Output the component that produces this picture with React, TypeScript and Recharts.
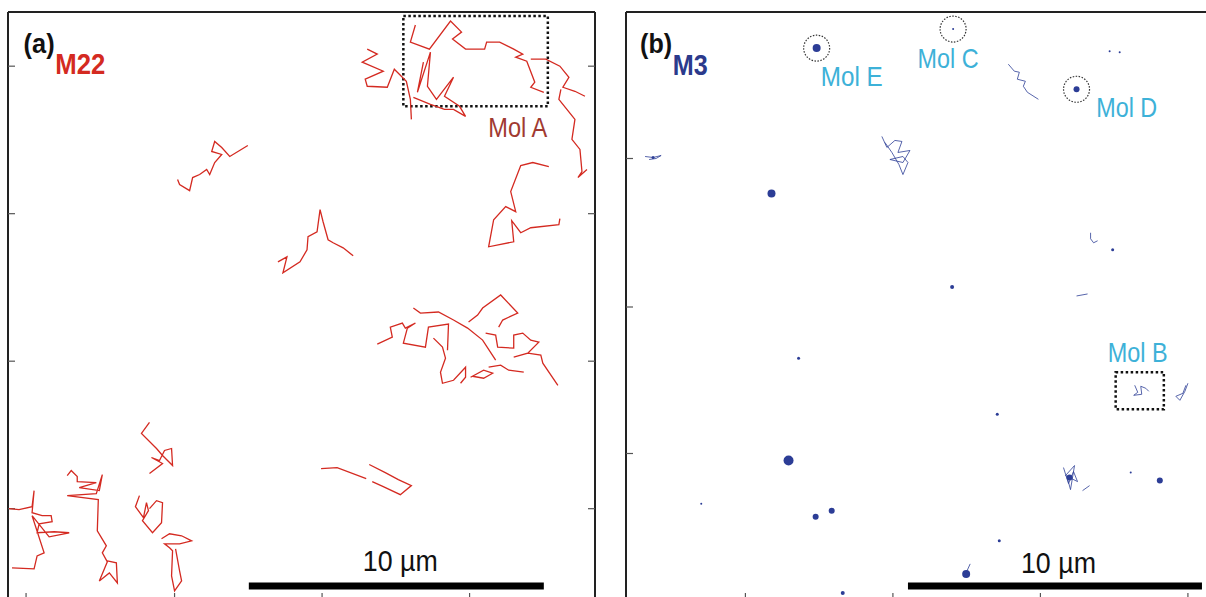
import { ScatterChart, Scatter, XAxis, YAxis, ReferenceArea, ReferenceDot, ReferenceLine } from "recharts";

// Coordinates are in image pixels of each field of view (origin = top-left corner of the frame).
// 10 µm scale bar = 294 px, axis ticks every 5 µm.

const FIELD_W = 585;
const FIELD_H = 586;

// panel (a) ticks
const aTicksX = [18, 166, 313, 460];
const aTicksY = [54, 201, 348, 495];
// panel (b) ticks
const bTicksX = [119, 266, 413, 560];
const bTicksY = [146, 294, 440];

// ---- panel (a): M22 trajectories ----
const molA = [[406,13],[401,30],[420,37],[441,9],[452,20],[443,27],[456,37],[475,37],[477,30],[490,30],[504,37],[513,42],[506,45],[517,49],[525,70],[521,75],[534,80]];
const trackA2 = [[521,47],[536,47],[550,54],[559,65],[553,75],[565,79],[575,84]];
const trackA3 = [[551,77],[549,87],[557,97],[565,107],[562,127],[570,137],[572,159],[568,165],[577,157]];
const trackA4 = [[358,37],[368,42],[353,50],[374,59],[356,67],[358,74],[378,75],[385,57],[397,69],[401,87],[402,107]];
const trackA5 = [[414,50],[408,80],[421,40],[418,74],[427,87],[444,65],[435,84],[450,94],[456,104],[444,97],[435,97],[421,92],[404,85]];
const trackA6 = [[169,167],[171,172],[181,178],[184,165],[191,162],[198,157],[201,162],[206,150],[213,142],[203,139],[206,129],[213,135],[221,144],[239,133]];
const trackA7 = [[269,249],[278,244],[274,260],[291,249],[298,237],[299,224],[308,219],[311,197],[314,209],[319,227],[324,230],[334,235],[344,243]];
const trackA8 = [[539,154],[523,150],[511,153],[501,179],[506,199],[496,194],[484,207],[479,234],[504,229],[502,208],[511,220],[521,215],[549,212],[550,206]];
const trackA9 = [[368,331],[383,324],[381,314],[393,310],[396,315],[406,310],[398,315],[394,330],[416,334],[419,314],[439,311],[438,337]];
const trackA10 = [[404,295],[411,300],[429,299],[444,307],[458,315],[473,327],[486,347]];
const trackA11 = [[459,309],[468,302],[473,295],[491,282],[508,300],[493,307],[489,314]];
const trackA12 = [[424,325],[433,334],[436,345],[431,359],[433,370],[444,367],[456,354],[456,364],[451,370]];
const trackA13 = [[461,364],[474,357],[483,360],[474,365],[463,363]];
const trackA14 = [[479,354],[491,352],[499,357],[514,359]];
const trackA15 = [[476,320],[486,322],[488,334],[504,335],[504,322],[513,320],[521,327],[529,329],[518,340],[504,344],[518,340],[531,342],[533,350],[548,372]];
const trackA16 = [[312,455],[328,454],[357,465]];
const trackA17 = [[360,451],[376,459],[389,466],[402,472],[391,481],[374,473],[363,468]];
const trackA18 = [[141,409],[133,420],[148,435],[154,442],[164,452],[163,435],[156,437],[151,447],[143,444],[154,450],[141,460]];
const trackA19 = [[59,462],[63,457],[69,463],[69,468],[88,469],[71,474],[91,477],[94,461],[88,480],[59,482],[90,486],[89,517],[98,532],[94,539],[99,548],[91,567],[101,559],[109,569],[108,549],[99,547]];
const trackA20 = [[1,495],[11,496],[24,493],[26,477],[24,499],[34,502],[43,502],[44,508],[31,510],[29,519],[46,518],[61,519],[41,523],[24,502],[36,539],[29,542],[26,555],[4,554]];
const trackA21 = [[131,482],[127,493],[135,504],[138,489],[140,497],[134,507],[144,519],[153,509],[154,489],[148,487],[141,495]];
const trackA22 = [[153,525],[161,520],[173,522],[183,527],[171,530],[156,530],[161,534],[164,537],[163,562],[166,577],[173,567],[171,557],[167,535]];

const tracksM22 = [molA, trackA2, trackA3, trackA4, trackA5, trackA6, trackA7, trackA8, trackA9, trackA10, trackA11,
  trackA12, trackA13, trackA14, trackA15, trackA16, trackA17, trackA18, trackA19, trackA20, trackA21, trackA22];

// ---- panel (b): M3 trajectories ----
const trackB1 = [[19,144],[27,145],[35,143],[30,146],[23,147]];
const trackB2 = [[381,52],[387,59],[392,60],[390,67],[398,69],[396,74],[400,80],[411,87]];
const trackB3 = [[255,124],[260,135],[268,128],[275,129],[271,140],[283,138],[276,150],[263,147],[276,144],[281,150],[276,162],[272,152],[265,140],[258,130]];
const trackB4 = [[463,220],[463,226],[466,230],[470,228]];
const trackB5 = [[449,283],[460,281]];
const molB = [[507,372],[510,379],[506,382],[514,381],[513,373],[518,375],[521,378]];
const trackB7 = [[560,370],[557,378],[552,387],[548,383],[555,380],[558,372]];
const trackB8 = [[436,454],[441,470],[446,458],[450,468],[438,462],[447,452],[443,476],[440,465]];
const trackB9 = [[455,477],[462,472]];
const trackB10 = [[338,561],[343,550]];

const tracksM3 = [trackB1, trackB2, trackB3, trackB4, trackB5, molB, trackB7, trackB8, trackB9, trackB10];

// immobile molecules: x, y, apparent blob radius
const blobsM3 = [
  [190,36,4],[326,17,1],[449,77,3],[482,39,1],[492,40,1],[145,181,4],[485,237,1.5],[172,345,1.5],
  [370,401,1.5],[162,447,5],[75,490,1],[189,503,3],[205,497,3],[503,459,1],[532,467,3],[372,527,1.5],
  [339,560,4],[216,579,2],[27,145,1.5],[325,274,2],[442,464,3],
];

const RED = "#d42a21";
const BLUE = "#2c3d96";
const CYAN = "#3db1d8";
const FONT = "'Liberation Sans', Arial, sans-serif";

const toPts = (arr: number[][]) => arr.map(([x, y]) => ({ x, y }));
const noShape = () => <g />;
const noLabel = () => <g />;

const M = 4;
const CW = FIELD_W + 2 * M + 2;
const CH = FIELD_H + 2 * M + 2;

function axes(ticksX: number[], ticksY: number[]) {
  const line = { stroke: "#222", strokeWidth: 2 };
  const tl = { stroke: "#555", strokeWidth: 1.2 };
  return [
    <XAxis key="xb" xAxisId={0} type="number" dataKey="x" domain={[0, FIELD_W]} ticks={ticksX} tick={noLabel}
      tickLine={tl} tickSize={7} mirror height={1} orientation="bottom" axisLine={line} allowDataOverflow />,
    <XAxis key="xt" xAxisId="top" type="number" domain={[0, FIELD_W]} ticks={ticksX} tick={noLabel}
      tickLine={tl} tickSize={7} mirror height={1} orientation="top" axisLine={line} allowDataOverflow />,
    <YAxis key="yl" yAxisId={0} type="number" dataKey="y" domain={[0, FIELD_H]} reversed ticks={ticksY} tick={noLabel}
      tickLine={tl} tickSize={7} mirror width={1} orientation="left" axisLine={line} allowDataOverflow />,
    <YAxis key="yr" yAxisId="right" type="number" domain={[0, FIELD_H]} reversed ticks={ticksY} tick={noLabel}
      tickLine={tl} tickSize={7} mirror width={1} orientation="right" axisLine={line} allowDataOverflow />,
  ];
}

// text placed at a data position, squeezed to the width seen in the figure
function textDot(key: string, x: number, y: number, value: string, fill: string, fontSize: number, len: number, fontWeight = "normal") {
  const render = (p: any) => {
    const vb = p.viewBox || {};
    const cx = (vb.x ?? 0) + (vb.width ?? 0) / 2;
    const cy = (vb.y ?? 0) + (vb.height ?? 0) / 2;
    return (
      <text x={cx} y={cy} textAnchor="middle" dominantBaseline="central" fill={fill} fontSize={fontSize}
        fontWeight={fontWeight} fontFamily={FONT} textLength={len} lengthAdjust="spacingAndGlyphs">
        {value}
      </text>
    );
  };
  return <ReferenceDot key={key} x={x} y={y} r={0} fill="none" stroke="none" label={render} />;
}

export default function App() {
  const left = (px: number) => px - M - 1;
  return (
    <div style={{ position: "absolute", left: 0, top: 0, width: 1206, height: 597, overflow: "hidden", background: "#fff" }}>
      <div style={{ position: "absolute", left: left(9), top: left(13) }}>
        <ScatterChart width={CW} height={CH} margin={{ top: M, right: M, bottom: M, left: M }}>
          {axes(aTicksX, aTicksY)}
          {tracksM22.map((t, i) => (
            <Scatter key={i} data={toPts(t)} line={{ stroke: RED, strokeWidth: 1.3 }} lineType="joint"
              shape={noShape} isAnimationActive={false} />
          ))}
          <ReferenceArea x1={394} x2={538} y1={4} y2={94} fill="none" stroke="#111"
            strokeWidth={2.5} strokeDasharray="2.5 2.5" ifOverflow="visible" />
          <ReferenceLine segment={[{ x: 240, y: 572 }, { x: 534, y: 572 }]} stroke="#000" strokeWidth={7} />
          {textDot("ma", 508, 115, "Mol A", "#a13a31", 28, 59)}
          {textDot("sa", 391, 547, "10 µm", "#111", 30, 75)}
          {textDot("pa", 31, 32, "(a)", "#111", 27, 31, "bold")}
          {textDot("na", 72, 52, "M22", RED, 29, 50, "bold")}
        </ScatterChart>
      </div>
      <div style={{ position: "absolute", left: left(627), top: left(13) }}>
        <ScatterChart width={CW} height={CH} margin={{ top: M, right: M, bottom: M, left: M }}>
          {axes(bTicksX, bTicksY)}
          {tracksM3.map((t, i) => (
            <Scatter key={i} data={toPts(t)} line={{ stroke: BLUE, strokeWidth: 0.8 }} lineType="joint"
              shape={noShape} isAnimationActive={false} />
          ))}
          <Scatter data={blobsM3.map(([x, y, r]) => ({ x, y, r }))} isAnimationActive={false}
            shape={(p: any) => <circle cx={p.cx} cy={p.cy} r={p.payload.r} fill={BLUE} />} />
          <ReferenceDot x={190} y={36} r={13} fill="none" stroke="#333" strokeWidth={1.2} strokeDasharray="1.5 1.5" />
          <ReferenceDot x={326} y={17} r={13} fill="none" stroke="#333" strokeWidth={1.2} strokeDasharray="1.5 1.5" />
          <ReferenceDot x={449} y={77} r={13} fill="none" stroke="#333" strokeWidth={1.2} strokeDasharray="1.5 1.5" />
          <ReferenceArea x1={488} x2={536} y1={359} y2={396} fill="none" stroke="#111"
            strokeWidth={2.5} strokeDasharray="2.5 2.5" ifOverflow="visible" />
          <ReferenceLine segment={[{ x: 281, y: 572 }, { x: 574, y: 572 }]} stroke="#000" strokeWidth={7} />
          {textDot("me", 225, 64, "Mol E", CYAN, 28, 62)}
          {textDot("mc", 321, 46, "Mol C", CYAN, 28, 61)}
          {textDot("md", 499, 95, "Mol D", CYAN, 28, 61)}
          {textDot("mb", 510, 339, "Mol B", CYAN, 28, 60)}
          {textDot("sb", 431, 549, "10 µm", "#111", 30, 75)}
          {textDot("pb", 30, 32, "(b)", "#111", 27, 32, "bold")}
          {textDot("nb", 64, 53, "M3", "#2b3a8c", 29, 35, "bold")}
        </ScatterChart>
      </div>
    </div>
  );
}
